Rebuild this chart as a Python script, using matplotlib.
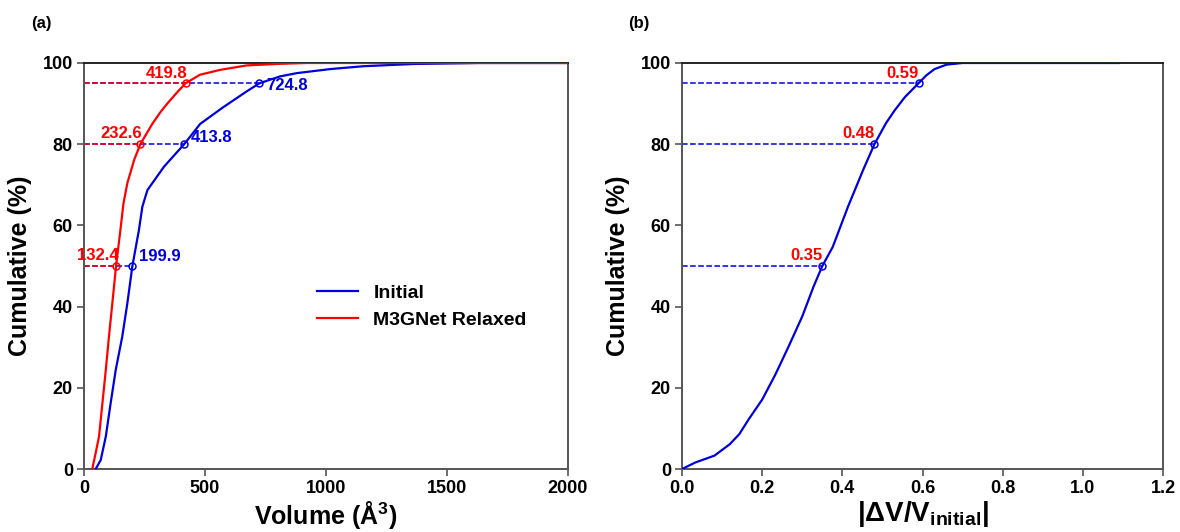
import matplotlib
matplotlib.use("Agg")
import matplotlib.pyplot as plt

plt.rcParams['font.family'] = ['Liberation Sans', 'DejaVu Sans']
plt.rcParams['font.weight'] = 'bold'
plt.rcParams['mathtext.fontset'] = 'custom'
plt.rcParams['mathtext.rm'] = 'Liberation Sans:bold'
plt.rcParams['mathtext.bf'] = 'Liberation Sans:bold'
plt.rcParams['mathtext.it'] = 'Liberation Sans:bold'

# Cumulative distribution of cell volumes (Å^3 vs %)
initial_vol = [48, 69, 90, 110, 131, 158, 179, 199.9, 227, 241, 262, 331, 413.8,
               480, 575, 672, 724.8, 810, 879, 1017, 1153, 1360, 1636, 2100]
initial_pct = [0, 2.2, 8, 16.2, 24.4, 32.6, 40.8, 50, 58.9, 64.6, 68.7, 74.5, 80,
               85, 89.1, 93, 95, 96.7, 97.5, 98.5, 99.2, 99.75, 100, 100]

relaxed_vol = [34, 48, 62, 76, 90, 103, 117, 132.4, 152, 163, 179, 207, 232.6,
               282, 317, 344, 388, 419.8, 479, 562, 672, 810, 920, 2100]
relaxed_pct = [0, 3.9, 8, 16.2, 24.4, 32.6, 40.8, 50, 59.7, 65.4, 70.4, 76.1, 80,
               85, 88, 90, 93, 95, 97.1, 98.3, 99.4, 99.8, 100, 100]

# Percentile markers
levels = [50, 80, 95]
initial_marks = [199.9, 413.8, 724.8]
relaxed_marks = [132.4, 232.6, 419.8]
initial_label_dy = [7, 5, -1.5]   # vertical nudge of the blue labels (points)

# Cumulative distribution of relative volume change
dv_ratio = [0, 0.033, 0.081, 0.119, 0.143, 0.166, 0.2, 0.233, 0.266, 0.3, 0.328, 0.35,
            0.376, 0.414, 0.452, 0.48, 0.509, 0.531, 0.556, 0.59, 0.61, 0.63, 0.66,
            0.70, 1.089]
dv_pct = [0, 1.6, 3.3, 6.1, 8.6, 12.2, 17.1, 23.3, 30.2, 37.6, 44.9, 50,
          54.7, 64.6, 73.7, 80, 85.2, 88.4, 91.6, 95, 97.0, 98.5, 99.6,
          100, 100]
dv_marks = [0.35, 0.48, 0.59]

BLUE = '#0000dd'
RED = '#ff0000'
SPINE = '#555555'

fig = plt.figure(figsize=(11.8, 5.32), dpi=100)
ax1 = fig.add_axes([0.0712, 0.1184, 0.4102, 0.7632])
ax2 = fig.add_axes([0.578, 0.1184, 0.4076, 0.7632])


def style(ax):
    for side in ['left', 'bottom', 'right']:
        ax.spines[side].set_color(SPINE)
        ax.spines[side].set_linewidth(1.4)
    ax.spines['top'].set_color('#222222')
    ax.spines['top'].set_linewidth(1.4)
    ax.tick_params(axis='both', direction='out', length=5, width=1.2,
                   color=SPINE, labelsize=13, top=False, right=False, pad=3)
    for lab in ax.get_xticklabels() + ax.get_yticklabels():
        lab.set_fontweight('bold')
    ax.set_ylim(0, 100)
    ax.set_yticks([0, 20, 40, 60, 80, 100])
    ax.set_ylabel('Cumulative (%)', fontsize=18, fontweight='bold', labelpad=8)


# Panel (a)
ax1.plot(initial_vol, initial_pct, color=BLUE, lw=1.6, label='Initial', zorder=3)
ax1.plot(relaxed_vol, relaxed_pct, color=RED, lw=1.6, label='M3GNet Relaxed', zorder=3)
for y, xb, xr, dy in zip(levels, initial_marks, relaxed_marks, initial_label_dy):
    ax1.plot([0, xb], [y, y], ls='--', color=BLUE, lw=1.1, zorder=2)
    ax1.plot([0, xr], [y, y], ls='--', color=RED, lw=1.1, zorder=2)
    ax1.plot([xb], [y], marker='o', ms=5, mfc='none', mec=BLUE, mew=1.1, zorder=4)
    ax1.plot([xr], [y], marker='o', ms=5, mfc='none', mec=RED, mew=1.1, zorder=4)
    ax1.annotate(f'{xb:.1f}', (xb, y), xytext=(5, dy), textcoords='offset points',
                 ha='left', va='center', color=BLUE, fontsize=12, fontweight='bold')
    ax1.annotate(f'{xr:.1f}', (xr, y), xytext=(1.5, 2), textcoords='offset points',
                 ha='right', va='bottom', color=RED, fontsize=12, fontweight='bold')
ax1.set_xlim(0, 2000)
ax1.set_xticks([0, 500, 1000, 1500, 2000])
style(ax1)
ax1.set_xlabel('Volume (Å$^3$)', fontsize=18, fontweight='bold', labelpad=1)
leg = ax1.legend(loc='center left', bbox_to_anchor=(0.445, 0.40), frameon=False,
                 fontsize=14, handlelength=2.1, handletextpad=0.8, labelspacing=0.5)
for t in leg.get_texts():
    t.set_fontweight('bold')

# Panel (b)
ax2.plot(dv_ratio, dv_pct, color=BLUE, lw=1.6, zorder=3)
for y, xv in zip(levels, dv_marks):
    ax2.plot([0, xv], [y, y], ls='--', color=BLUE, lw=1.1, zorder=2)
    ax2.plot([xv], [y], marker='o', ms=5, mfc='none', mec=BLUE, mew=1.1, zorder=4)
    ax2.annotate(f'{xv:.2f}', (xv, y), xytext=(0, 2), textcoords='offset points',
                 ha='right', va='bottom', color=RED, fontsize=12, fontweight='bold')
ax2.set_xlim(0, 1.2)
ax2.set_xticks([0.0, 0.2, 0.4, 0.6, 0.8, 1.0, 1.2])
ax2.set_xticklabels(['0.0', '0.2', '0.4', '0.6', '0.8', '1.0', '1.2'])
style(ax2)
ax2.set_xlabel(r'|$\Delta$V/V$_{\mathrm{initial}}$|', fontsize=20, fontweight='bold', labelpad=1)

fig.text(0.026, 0.955, '(a)', fontsize=12, fontweight='bold', va='center')
fig.text(0.532, 0.955, '(b)', fontsize=12, fontweight='bold', va='center')

fig.savefig('out.png', dpi=100)
